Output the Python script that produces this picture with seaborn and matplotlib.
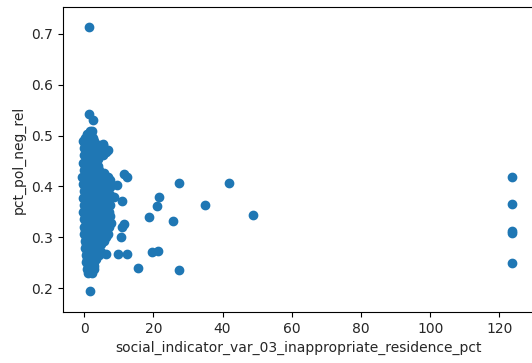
import matplotlib
matplotlib.use("Agg")
import matplotlib.pyplot as plt
import seaborn as sns
import pandas as pd

# Dense cluster near x = 0..8
cluster_x = [
    1.5,
    1.4,
    2.5,
    1.6, 2.3,
    0.9, 2.0,
    0.3, 1.5, 2.5,
    -0.2, 1.0, 2.1, 3.0,
    0.4, 1.7, 2.8, 4.2, 5.6,
    -0.1, 1.2, 2.4, 3.6, 5.0,
    0.6, 1.9, 3.1, 4.6, 6.3,
    0.0, 1.3, 2.5, 3.8, 5.4,
    0.5, 1.7, 3.0, 4.0,
    -0.3, 1.1, 2.3, 3.5,
    0.4, 1.6, 2.8, 4.1,
    -0.1, 1.0, 2.2, 3.4, 4.3,
    0.5, 1.8, 3.0, 4.4, 5.8,
    -0.7, 0.9, 2.4, 3.7, 5.3, 7.0,
    0.2, 1.5, 2.9, 4.2, 6.0, 7.5,
    -0.3, 1.1, 2.5, 3.8, 5.1, 6.8,
    0.4, 1.7, 3.1, 4.5, 6.2, 7.4,
    -0.1, 1.2, 2.6, 4.0, 5.5, 7.0,
    0.3, 1.8, 3.3, 4.7, 6.2, 7.6,
    -0.2, 1.3, 2.8, 4.2, 5.8, 7.2,
    0.5, 1.9, 3.4, 5.0, 6.7,
    0.0, 1.4, 2.9, 4.4, 6.0, 7.5,
    0.4, 1.9, 3.3, 4.9, 6.4,
    -0.3, 1.2, 2.6, 4.1, 5.6, 7.2,
    0.3, 1.7, 3.2, 4.6, 6.1, 7.6,
    -0.1, 1.3, 2.8, 4.3, 5.7, 7.0,
    0.5, 1.9, 3.4, 4.8, 6.5, 7.8,
    0.0, 1.4, 2.9, 4.4, 5.9, 7.3,
    0.4, 1.8, 3.3, 4.8, 6.3,
    -0.1, 1.3, 2.7, 4.1, 5.6, 7.0,
    0.5, 1.9, 3.4, 4.9, 6.2,
    0.2, 1.5, 2.9, 4.3, 5.8,
    0.6, 2.0, 3.5, 5.0,
    0.3, 1.6, 3.0, 4.4,
    0.8, 2.2, 3.6, 5.0,
    0.5, 1.8, 3.1, 4.2,
    0.9, 2.3, 3.4,
    0.6, 1.9, 3.0,
    1.0, 2.4, 2.9,
    0.7, 2.0, 2.8,
    1.2, 2.4,
    1.7,
]
cluster_y = [
    0.713,
    0.543,
    0.531,
    0.510, 0.510,
    0.503, 0.503,
    0.496, 0.496, 0.496,
    0.489, 0.489, 0.489, 0.489,
    0.482, 0.482, 0.482, 0.482, 0.482,
    0.475, 0.475, 0.475, 0.475, 0.475,
    0.468, 0.468, 0.468, 0.468, 0.468,
    0.461, 0.461, 0.461, 0.461, 0.461,
    0.454, 0.454, 0.454, 0.454,
    0.447, 0.447, 0.447, 0.447,
    0.440, 0.440, 0.440, 0.440,
    0.433, 0.433, 0.433, 0.433, 0.433,
    0.426, 0.426, 0.426, 0.426, 0.426,
    0.419, 0.419, 0.419, 0.419, 0.419, 0.419,
    0.412, 0.412, 0.412, 0.412, 0.412, 0.412,
    0.405, 0.405, 0.405, 0.405, 0.405, 0.405,
    0.398, 0.398, 0.398, 0.398, 0.398, 0.398,
    0.391, 0.391, 0.391, 0.391, 0.391, 0.391,
    0.384, 0.384, 0.384, 0.384, 0.384, 0.384,
    0.377, 0.377, 0.377, 0.377, 0.377, 0.377,
    0.370, 0.370, 0.370, 0.370, 0.370,
    0.363, 0.363, 0.363, 0.363, 0.363, 0.363,
    0.356, 0.356, 0.356, 0.356, 0.356,
    0.349, 0.349, 0.349, 0.349, 0.349, 0.349,
    0.342, 0.342, 0.342, 0.342, 0.342, 0.342,
    0.335, 0.335, 0.335, 0.335, 0.335, 0.335,
    0.328, 0.328, 0.328, 0.328, 0.328, 0.328,
    0.321, 0.321, 0.321, 0.321, 0.321, 0.321,
    0.314, 0.314, 0.314, 0.314, 0.314,
    0.307, 0.307, 0.307, 0.307, 0.307, 0.307,
    0.300, 0.300, 0.300, 0.300, 0.300,
    0.293, 0.293, 0.293, 0.293, 0.293,
    0.286, 0.286, 0.286, 0.286,
    0.279, 0.279, 0.279, 0.279,
    0.272, 0.272, 0.272, 0.272,
    0.265, 0.265, 0.265, 0.265,
    0.258, 0.258, 0.258,
    0.251, 0.251, 0.251,
    0.244, 0.244, 0.244,
    0.237, 0.237, 0.237,
    0.230, 0.230,
    0.195,
]

# Scattered points away from the cluster
outlier_x = [27.3, 41.8, 21.6, 21.1, 35.0, 18.7, 25.6, 48.7, 19.6, 21.3,
             27.3, 15.5, 11.6, 12.3, 9.4, 8.5, 10.9, 11.4, 11.0, 10.7,
             9.9, 12.3, 6.4, 5.6, 7.0,
             123.7, 123.7, 123.7, 123.7, 123.7]
outlier_y = [0.407, 0.407, 0.379, 0.362, 0.363, 0.340, 0.333, 0.344, 0.271, 0.273,
             0.235, 0.239, 0.424, 0.418, 0.403, 0.380, 0.372, 0.326, 0.320, 0.300,
             0.267, 0.267, 0.268, 0.483, 0.472,
             0.418, 0.365, 0.312, 0.309, 0.250]

x_label = "social_indicator_var_03_inappropriate_residence_pct"
y_label = "pct_pol_neg_rel"

df = pd.DataFrame({x_label: cluster_x + outlier_x, y_label: cluster_y + outlier_y})

W, H = 532, 363
fig = plt.figure(figsize=(W / 100, H / 100), dpi=100)
ax = fig.add_axes([63 / W, 1 - 312 / H, (534 - 63) / W, (312 - 7) / H])

sns.scatterplot(data=df, x=x_label, y=y_label, ax=ax, color="#1f77b4",
                s=36, edgecolor="#1f77b4", linewidth=1.0, alpha=1.0)

ax.set_xlim(-6.1, 130.0)
ax.set_ylim(0.153, 0.753)
ax.set_xticks([0, 20, 40, 60, 80, 100, 120])
ax.set_yticks([0.2, 0.3, 0.4, 0.5, 0.6, 0.7])
for s in ax.spines.values():
    s.set_color("black")
    s.set_linewidth(0.8)
ax.tick_params(colors="black", labelcolor="#262626", labelsize=10)
ax.set_xlabel(x_label, fontsize=10, color="#262626")
ax.set_ylabel(y_label, fontsize=10, color="#262626")

fig.savefig("out.png", dpi=100)
